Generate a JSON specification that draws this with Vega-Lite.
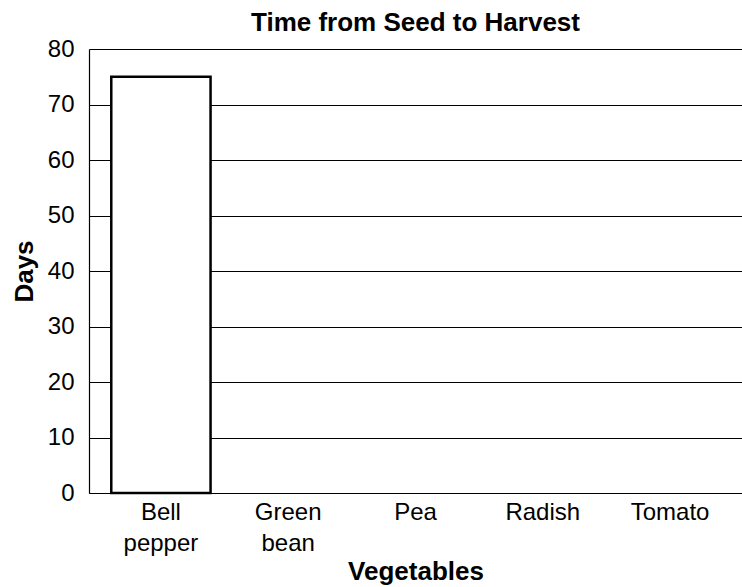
{
  "$schema": "https://vega.github.io/schema/vega-lite/v6.json",
  "width": 653,
  "height": 444,
  "autosize": {"type": "none"},
  "padding": {"left": 89, "top": 49, "right": 0, "bottom": 94},
  "background": "white",
  "title": {
    "text": "Time from Seed to Harvest",
    "font": "Liberation Sans",
    "fontSize": 26,
    "fontWeight": "bold",
    "color": "black",
    "offset": 1,
    "anchor": "middle"
  },
  "data": {
    "values": [
      {"vegetable": "Bell pepper", "days": 75},
      {"vegetable": "Green bean", "days": null},
      {"vegetable": "Pea", "days": null},
      {"vegetable": "Radish", "days": null},
      {"vegetable": "Tomato", "days": null}
    ]
  },
  "mark": {"type": "bar", "fill": "white", "stroke": "black", "strokeWidth": 2.5},
  "encoding": {
    "x": {
      "field": "vegetable",
      "type": "nominal",
      "sort": null,
      "scale": {
        "domain": ["Bell pepper", "Green bean", "Pea", "Radish", "Tomato"],
        "paddingInner": 0.22,
        "paddingOuter": 0.175
      },
      "axis": {
        "title": "Vegetables",
        "labelAngle": 0,
        "labelExpr": "split(datum.label, ' ')",
        "labelLineHeight": 31,
        "labelPadding": 7,
        "ticks": false,
        "titlePadding": 3
      }
    },
    "y": {
      "field": "days",
      "type": "quantitative",
      "scale": {"domain": [0, 80]},
      "axis": {
        "title": "Days",
        "values": [0, 10, 20, 30, 40, 50, 60, 70, 80],
        "ticks": false,
        "labelPadding": 15,
        "titlePadding": 10,
        "grid": true
      }
    }
  },
  "config": {
    "view": {"stroke": null},
    "font": "Liberation Sans",
    "axis": {
      "labelFont": "Liberation Sans",
      "titleFont": "Liberation Sans",
      "labelFontSize": 24,
      "titleFontSize": 26,
      "titleFontWeight": "bold",
      "labelColor": "black",
      "titleColor": "black",
      "domainColor": "black",
      "domainWidth": 1.2,
      "gridColor": "black",
      "gridWidth": 1.2,
      "gridOpacity": 1
    }
  }
}
